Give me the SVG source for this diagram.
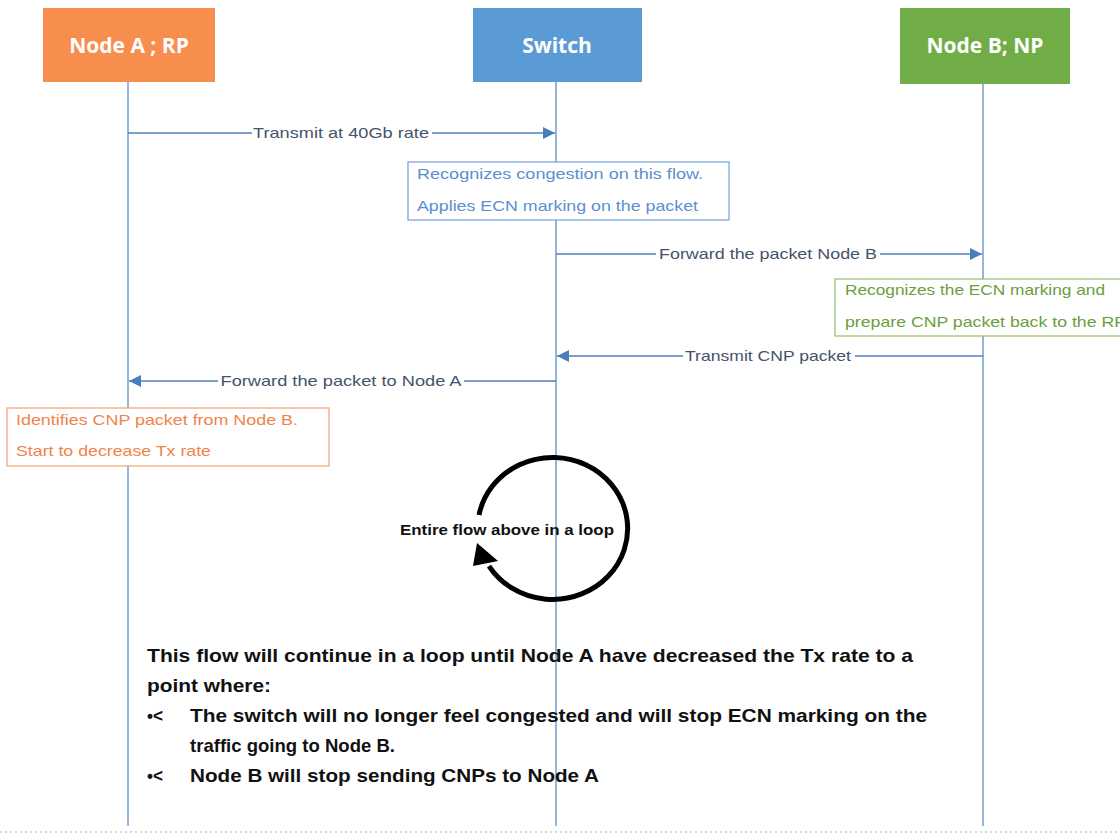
<svg xmlns="http://www.w3.org/2000/svg" width="1120" height="838" viewBox="0 0 1120 838">
<style>
.head{font-family:"Open Sans","Liberation Sans",sans-serif;font-weight:bold;font-size:21px;fill:#ffffff;text-anchor:middle}
.life{stroke:#5b8fc9;stroke-width:1.3;fill:none}
.msg{stroke:#4f81bd;stroke-width:1.3;fill:none}
.lbl{font-family:"Liberation Sans",Arial,sans-serif;font-size:15px;fill:#44546a;text-anchor:middle}
.note{font-family:"Liberation Sans",Arial,sans-serif;font-size:15px}
.big{font-family:"Liberation Sans",Arial,sans-serif;font-size:19px;font-weight:bold;fill:#111111}
</style>
<defs>
<marker id="ah" viewBox="0 0 12 12" refX="12" refY="6" markerWidth="12" markerHeight="12" markerUnits="userSpaceOnUse" orient="auto">
<path d="M0,0 L12,6 L0,12 Z" fill="#4a7ebb"/>
</marker>
</defs>
<rect width="1120" height="838" fill="#ffffff"/>

<g id="nodeA">
<rect x="43" y="8" width="172" height="74" fill="#f88e4e"/>
<text class="head" x="129" y="53">Node A ; RP</text>
</g>
<g id="switch">
<rect x="473" y="8" width="169" height="74" fill="#5b9bd5"/>
<text class="head" x="557" y="53">Switch</text>
</g>
<g id="nodeB">
<rect x="900" y="8" width="170" height="76" fill="#70ad47"/>
<text class="head" x="985" y="53">Node B; NP</text>
</g>

<g id="lifelines">
<line class="life" x1="128" y1="82" x2="128" y2="826"/>
<line class="life" x1="556" y1="82" x2="556" y2="826"/>
<line class="life" x1="983" y1="84" x2="983" y2="826"/>
</g>

<g id="connectors">
<line class="msg" x1="128" y1="133" x2="555" y2="133" marker-end="url(#ah)"/>
<rect x="252" y="124" width="180" height="18" fill="#ffffff"/>
<text class="lbl" x="341" y="138" textLength="176" lengthAdjust="spacingAndGlyphs">Transmit at 40Gb rate</text>

<line class="msg" x1="556" y1="254" x2="982" y2="254" marker-end="url(#ah)"/>
<rect x="656" y="245" width="224" height="18" fill="#ffffff"/>
<text class="lbl" x="768" y="259" textLength="218" lengthAdjust="spacingAndGlyphs">Forward the packet Node B</text>

<line class="msg" x1="983" y1="356" x2="557" y2="356" marker-end="url(#ah)"/>
<rect x="683" y="347" width="172" height="18" fill="#ffffff"/>
<text class="lbl" x="768" y="361" textLength="166" lengthAdjust="spacingAndGlyphs">Transmit CNP packet</text>

<line class="msg" x1="556" y1="381" x2="129" y2="381" marker-end="url(#ah)"/>
<rect x="218" y="372" width="246" height="18" fill="#ffffff"/>
<text class="lbl" x="341" y="386" textLength="241" lengthAdjust="spacingAndGlyphs">Forward the packet to Node A</text>
</g>

<g id="switchNote">
<rect x="408" y="162" width="321" height="58" fill="#ffffff" stroke="#6fa0d8" stroke-width="1.2"/>
<text class="note" fill="#5b8fd0" x="417" y="179" textLength="286" lengthAdjust="spacingAndGlyphs">Recognizes congestion on this flow.</text>
<text class="note" fill="#5b8fd0" x="417" y="211" textLength="281" lengthAdjust="spacingAndGlyphs">Applies ECN marking on the packet</text>
</g>

<g id="nodeBNote">
<rect x="835" y="279" width="300" height="57" fill="#ffffff" stroke="#92bf6a" stroke-width="1.2"/>
<text class="note" fill="#6a9e3e" x="845" y="295" textLength="260" lengthAdjust="spacingAndGlyphs">Recognizes the ECN marking and</text>
<text class="note" fill="#6a9e3e" x="845" y="327" textLength="281" lengthAdjust="spacingAndGlyphs">prepare CNP packet back to the RP</text>
</g>

<g id="nodeANote">
<rect x="7" y="408" width="322" height="58" fill="#ffffff" stroke="#f4a070" stroke-width="1.2"/>
<text class="note" fill="#f0844a" x="16" y="425" textLength="282" lengthAdjust="spacingAndGlyphs">Identifies CNP packet from Node B.</text>
<text class="note" fill="#f0844a" x="16" y="456" textLength="195" lengthAdjust="spacingAndGlyphs">Start to decrease Tx rate</text>
</g>

<g id="loop">
<path d="M 479 515 A 75 71 0 1 1 489 566" fill="none" stroke="#000000" stroke-width="5"/>
<path d="M 477 543 L 473 566 L 498 561 Z" fill="#000000"/>
<text x="507" y="535" font-family="Liberation Sans, Arial, sans-serif" font-size="15px" font-weight="bold" fill="#111111" text-anchor="middle" textLength="214" lengthAdjust="spacingAndGlyphs">Entire flow above in a loop</text>
</g>

<g id="summary">
<text class="big" x="147" y="662" textLength="766" lengthAdjust="spacingAndGlyphs">This flow will continue in a loop until Node A have decreased the Tx rate to a</text>
<text class="big" x="147" y="692" textLength="124" lengthAdjust="spacingAndGlyphs">point where:</text>
<text class="big" x="147" y="722" textLength="16" lengthAdjust="spacingAndGlyphs">•&lt;</text>
<text class="big" x="190" y="722" textLength="737" lengthAdjust="spacingAndGlyphs">The switch will no longer feel congested and will stop ECN marking on the</text>
<text class="big" x="190" y="752" textLength="205" lengthAdjust="spacingAndGlyphs">traffic going to Node B.</text>
<text class="big" x="147" y="782" textLength="16" lengthAdjust="spacingAndGlyphs">•&lt;</text>
<text class="big" x="190" y="782" textLength="409" lengthAdjust="spacingAndGlyphs">Node B will stop sending CNPs to Node A</text>
</g>

<line x1="0" y1="832" x2="1120" y2="832" stroke="#d8d8d8" stroke-width="2" stroke-dasharray="2 3"/>
</svg>
